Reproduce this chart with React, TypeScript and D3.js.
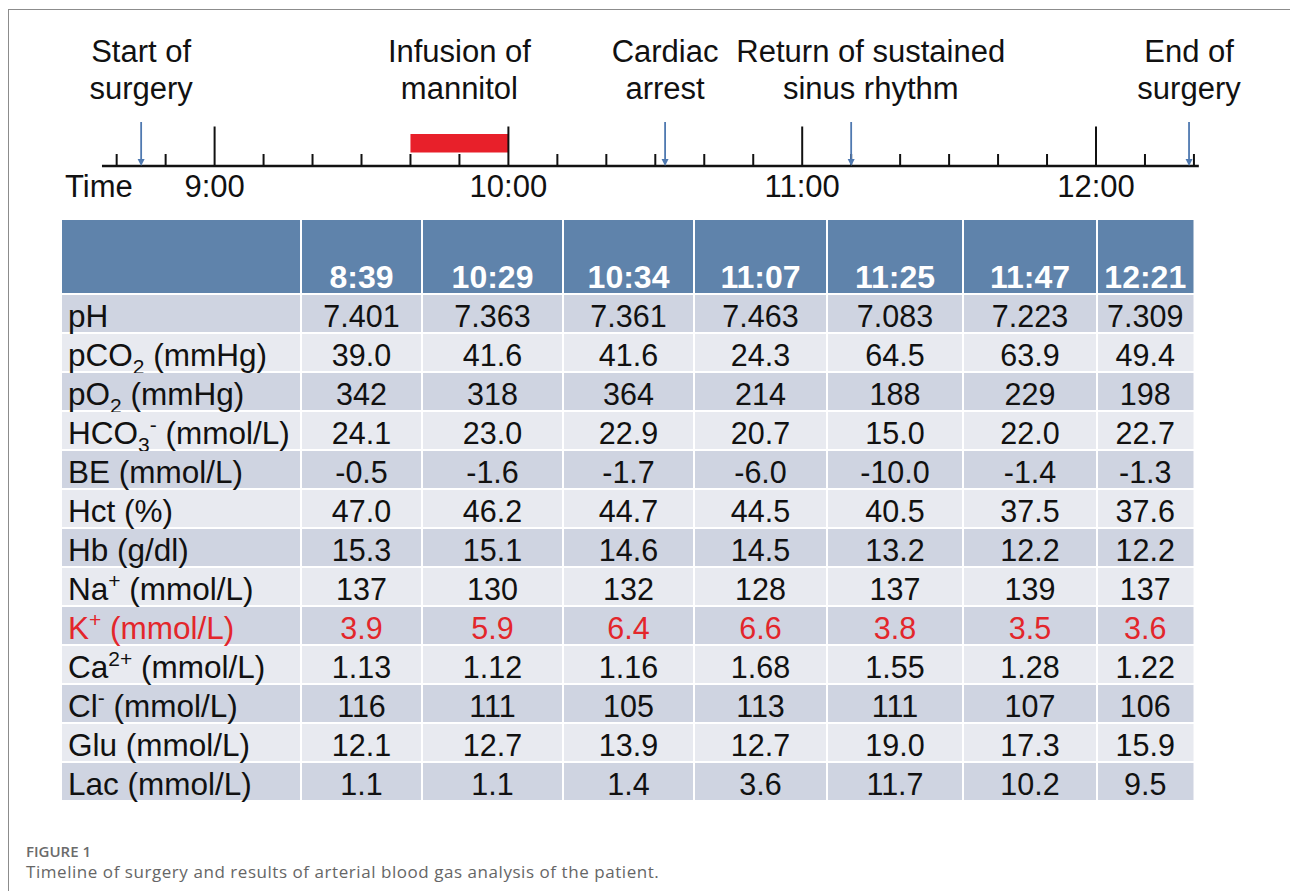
import React from 'react';
import * as d3 from 'd3';

// timeline
const hourTicks = ['9:00', '10:00', '11:00', '12:00'];
const axisStart = '8:37';
const axisEnd = '12:21';
const firstMinorTick = '8:40';
const lastMinorTick = '12:20';
const events = [
  { lines: ['Start of', 'surgery'], time: '8:45', labelTime: '8:45' },
  { lines: ['Cardiac', 'arrest'], time: '10:32', labelTime: '10:32' },
  { lines: ['Return of sustained', 'sinus rhythm'], time: '11:10', labelTime: '11:14' },
  { lines: ['End of', 'surgery'], time: '12:19', labelTime: '12:19' },
];
const infusion = { lines: ['Infusion of', 'mannitol'], start: '9:40', end: '10:00' };

// blood gas table
const sampleTimes = ['8:39', '10:29', '10:34', '11:07', '11:25', '11:47', '12:21'];
const paramNames = ['pH', 'pCO', 'pO', 'HCO', 'BE', 'Hct', 'Hb', 'Na', 'K', 'Ca', 'Cl', 'Glu', 'Lac'];
const paramSub = ['', '2', '2', '3', '', '', '', '', '', '', '', '', ''];
const paramSup = ['', '', '', '-', '', '', '', '+', '+', '2+', '-', '', ''];
const paramUnits = ['', ' (mmHg)', ' (mmHg)', ' (mmol/L)', ' (mmol/L)', ' (%)', ' (g/dl)', ' (mmol/L)', ' (mmol/L)', ' (mmol/L)', ' (mmol/L)', ' (mmol/L)', ' (mmol/L)'];
const paramFormats = ['.3f', '.1f', 'd', '.1f', '.1f', '.1f', '.1f', 'd', '.1f', '.2f', 'd', '.1f', '.1f'];

const pH = [7.401, 7.363, 7.361, 7.463, 7.083, 7.223, 7.309];
const pCO2 = [39.0, 41.6, 41.6, 24.3, 64.5, 63.9, 49.4];
const pO2 = [342, 318, 364, 214, 188, 229, 198];
const HCO3 = [24.1, 23.0, 22.9, 20.7, 15.0, 22.0, 22.7];
const BE = [-0.5, -1.6, -1.7, -6.0, -10.0, -1.4, -1.3];
const Hct = [47.0, 46.2, 44.7, 44.5, 40.5, 37.5, 37.6];
const Hb = [15.3, 15.1, 14.6, 14.5, 13.2, 12.2, 12.2];
const Na = [137, 130, 132, 128, 137, 139, 137];
const K = [3.9, 5.9, 6.4, 6.6, 3.8, 3.5, 3.6];
const Ca = [1.13, 1.12, 1.16, 1.68, 1.55, 1.28, 1.22];
const Cl = [116, 111, 105, 113, 111, 107, 106];
const Glu = [12.1, 12.7, 13.9, 12.7, 19.0, 17.3, 15.9];
const Lac = [1.1, 1.1, 1.4, 3.6, 11.7, 10.2, 9.5];
const tableRows = [pH, pCO2, pO2, HCO3, BE, Hct, Hb, Na, K, Ca, Cl, Glu, Lac];
const highlightRow = 'K';

const FONT = '"Liberation Sans", Arial, Helvetica, sans-serif';
const BLUE_HEAD = '#5f83ab';
const ROW_DARK = '#cfd4e1';
const ROW_LIGHT = '#e8eaf0';
const RED = '#e3262b';
const ARROW = '#4f79b0';

const parseT = d3.timeParse('%H:%M');
const locale = d3.formatLocale({ decimal: '.', thousands: ',', grouping: [3], currency: ['', ''], minus: '-' });

const App = () => {
  const width = 1290;
  const height = 891;

  // time axis
  const x = d3.scaleTime()
    .domain([parseT('9:00')!, parseT('12:00')!])
    .range([214.6, 1096]);
  const axisY = 166;
  const minorTicks = d3.timeMinute.every(10)!.range(parseT(firstMinorTick)!, d3.timeMinute.offset(parseT(lastMinorTick)!, 1));
  const isHour = (d: Date) => d.getMinutes() === 0;

  // table geometry (columns are not equal width in the original)
  const colX = d3.scaleLinear()
    .domain(d3.range(9))
    .range([62, 301, 422, 563, 694, 827, 963, 1097, 1193.5]);
  const y = d3.scaleBand<string>()
    .domain(paramNames)
    .range([294, 801])
    .padding(0);
  const headTop = 220;
  const gap = 1;

  return (
    <svg width={width} height={height} viewBox={`0 0 ${width} ${height}`}
      style={{ position: 'absolute', left: 0, top: 0, display: 'block', background: '#fff' }}
      fontFamily={FONT}>
      <rect x={8.5} y={9.5} width={1400} height={1000} fill="none" stroke="#8c8c8c" strokeWidth={1} />

      {/* timeline */}
      <g>
        {events.map((e, i) => (
          <text key={i} textAnchor="middle" fontSize={31} fill="#111">
            <tspan x={x(parseT(e.labelTime)!)} y={62}>{e.lines[0]}</tspan>
            <tspan x={x(parseT(e.labelTime)!)} y={99}>{e.lines[1]}</tspan>
          </text>
        ))}
        <text textAnchor="middle" fontSize={31} fill="#111">
          <tspan x={(x(parseT(infusion.start)!) + x(parseT(infusion.end)!)) / 2} y={62}>{infusion.lines[0]}</tspan>
          <tspan x={(x(parseT(infusion.start)!) + x(parseT(infusion.end)!)) / 2} y={99}>{infusion.lines[1]}</tspan>
        </text>

        <rect x={x(parseT(infusion.start)!)} y={134} width={x(parseT(infusion.end)!) - x(parseT(infusion.start)!)}
          height={18.5} fill="#e8202a" />

        <line x1={x(parseT(axisStart)!)} x2={x(parseT(axisEnd)!)} y1={axisY} y2={axisY} stroke="#111" strokeWidth={2.5} />
        {minorTicks.map((t, i) => (
          <line key={i} x1={x(t)} x2={x(t)} y1={axisY} y2={isHour(t) ? 126.5 : 154} stroke="#111" strokeWidth={2} />
        ))}

        {events.map((e, i) => {
          const ax = x(parseT(e.time)!);
          return (
            <g key={i}>
              <line x1={ax} x2={ax} y1={122} y2={axisY - 5} stroke={ARROW} strokeWidth={1.8} />
              <path d={`M${ax - 3.5},${axisY - 7} L${ax + 3.5},${axisY - 7} L${ax},${axisY} Z`} fill={ARROW} />
            </g>
          );
        })}

        <text x={65} y={197} fontSize={31} fill="#111">Time</text>
        {hourTicks.map((h) => (
          <text key={h} x={x(parseT(h)!)} y={197} fontSize={31} fill="#111" textAnchor="middle">{h}</text>
        ))}
      </g>

      {/* table */}
      <g>
        <rect x={colX(0)} y={headTop} width={colX(8) - colX(0)} height={y.range()[1] - headTop} fill="#fff" />
        {d3.range(8).map((c) => (
          <rect key={`h${c}`} x={colX(c) + (c ? gap : 0)} y={headTop} width={colX(c + 1) - colX(c) - (c ? gap : 0) - (c < 7 ? gap : 0)}
            height={y.range()[0] - headTop - gap} fill={BLUE_HEAD} />
        ))}
        {sampleTimes.map((t, c) => (
          <text key={t} x={(colX(c + 1) + colX(c + 2)) / 2} y={288} textAnchor="middle" fontSize={32}
            fontWeight="bold" fill="#fff">{t}</text>
        ))}

        {paramNames.map((p, r) => {
          const top = y(p)!;
          const h = y.bandwidth();
          const fill = r % 2 === 0 ? ROW_DARK : ROW_LIGHT;
          const color = p === highlightRow ? RED : '#111';
          const fmt = locale.format(paramFormats[r]);
          const base = top + h * 0.84;
          return (
            <g key={p}>
              {d3.range(8).map((c) => (
                <rect key={c} x={colX(c) + (c ? gap : 0)} y={top + gap}
                  width={colX(c + 1) - colX(c) - (c ? gap : 0) - (c < 7 ? gap : 0)} height={h - 2 * gap} fill={fill} />
              ))}
              <text x={68} y={base} fontSize={31.5} fill={color}>
                {p}
                {paramSub[r] && <tspan fontSize={21} dy={8}>{paramSub[r]}</tspan>}
                {paramSup[r] && <tspan fontSize={21} dy={paramSub[r] ? -20 : -12}>{paramSup[r]}</tspan>}
                <tspan dy={paramSup[r] ? 12 : paramSub[r] ? -8 : 0}>{paramUnits[r]}</tspan>
              </text>
              {tableRows[r].map((v, c) => (
                <text key={c} x={(colX(c + 1) + colX(c + 2)) / 2} y={base} textAnchor="middle" fontSize={30.5} fill={color}>
                  {fmt(v)}
                </text>
              ))}
            </g>
          );
        })}
      </g>

      {/* caption */}
      <text x={26} y={857} fontFamily='"Open Sans", sans-serif' fontSize={15} fontWeight={600} fill="#6b6b6b">FIGURE 1</text>
      <text x={26} y={878} fontFamily='"Open Sans", sans-serif' fontSize={17} letterSpacing={0.55} fill="#666">
        Timeline of surgery and results of arterial blood gas analysis of the patient.
      </text>
    </svg>
  );
};

export default App;
